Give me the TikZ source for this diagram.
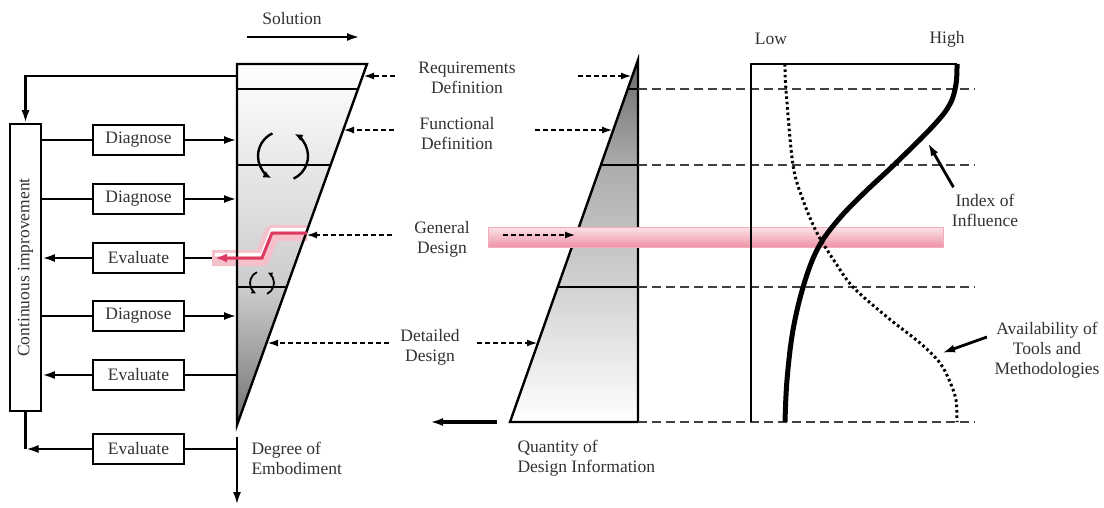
\documentclass[tikz,border=0pt]{standalone}
\usepackage{fontspec}
\setmainfont{Liberation Serif}
\usetikzlibrary{positioning, arrows.meta, calc}

\definecolor{bandpink}{RGB}{236,128,150}
\definecolor{pathred}{RGB}{222,56,96}
\definecolor{txtgray}{RGB}{50,50,50}

\pgfdeclareverticalshading{embodishade}{100bp}{color(0bp)=(black!55); color(25bp)=(black!55); color(44bp)=(black!20); color(61bp)=(black!9); color(75bp)=(white); color(100bp)=(white)}
\pgfdeclareverticalshading{infoshade}{100bp}{color(0bp)=(white); color(25bp)=(white); color(44bp)=(black!18); color(60bp)=(black!32); color(75bp)=(black!58); color(100bp)=(black!58)}

\begin{document}
\begin{tikzpicture}[
    x=1pt, y=-1pt,
    font=\fontsize{17.5}{20}\selectfont,
    every node/.style={text=txtgray},
    stagebox/.style={rectangle, draw=black, line width=1.7pt, minimum width=91pt, minimum height=30pt, inner sep=0pt, outer sep=0pt},
    flowline/.style={line width=2.8pt},
    flowarrow/.style={line width=2.8pt, -{Latex[length=13pt, width=8pt]}},
    dasharrow/.style={line width=2.8pt, dash pattern=on 5pt off 3pt, -{Latex[length=11pt, width=7pt]}},
    levelline/.style={line width=1.3pt, black!75, dash pattern=on 9pt off 5pt},
    turnarrow/.style={line width=2.4pt, -{Latex[length=8pt, width=7pt]}},
]
\useasboundingbox (0,0) rectangle (1104,507);

% triangles
\coordinate (ltl) at (237,64);
\coordinate (ltr) at (367,64);
\coordinate (ltip) at (237,425);
\coordinate (mtop) at (638,60);
\coordinate (mbr) at (638,422);
\coordinate (mbl) at (510,422);
\shade[shading=embodishade] (ltl) -- (ltr) -- (ltip) -- cycle;
\shade[shading=infoshade] (mtop) -- (mbr) -- (mbl) -- cycle;
\draw[line width=2.4pt] (mtop) -- (mbr) -- (mbl) -- cycle;
\foreach \f/\y in {0.080/89, 0.290/165, 0.627/287}
    \draw[line width=1.8pt] ($(mtop)!\f!(mbl)$) -- (638,\y);
\foreach \y in {89,165,287,422}
    \draw[levelline] (638,\y) -- (975,\y);

% general design band
\shade[top color=bandpink!22, bottom color=bandpink!85, draw=bandpink!65, line width=0.8pt] (488,227) rectangle (943,247);

% influence chart
\coordinate (rbl) at (751,422);
\coordinate (rtl) at (751,64);
\coordinate (rtr) at (957,64);
\draw[line width=2pt] (rbl) -- (rtl) -- (rtr);
\draw[line width=5pt] plot[smooth, tension=0.6] coordinates {(957,64) (956,84) (950,104) (934,125) (897,162) (864,193) (838,220) (818,248) (804,284) (793,330) (787,380) (785,422)};
\draw[line width=3pt, dash pattern=on 2.6pt off 2.8pt] plot[smooth, tension=0.55] coordinates {(785,64) (786,90) (793,165) (803,200) (817,233) (835,262) (853,287) (887,317) (920,343) (940,363) (950,382) (956,400) (957,422)};
\node (low) at (771,39) {Low};
\node (high) at (947,39) {High};
\node[align=center] (index) at (985,210) {Index of\\Influence};
\node[align=center] (avail) at (1047,350) {Availability of\\Tools and\\Methodologies};
\coordinate (idxtip) at (928,143);
\coordinate (avtip) at (942,353);
\draw[flowarrow] ([shift={(5pt,3pt)}]index.north west) -- (idxtip);
\draw[flowarrow] ([shift={(-4pt,13pt)}]avail.west) -- (avtip);

% improvement loop
\node[draw=black, line width=1.7pt, rotate=90, minimum width=287pt, minimum height=31pt, inner sep=0pt] (ci) at (25.5,267.5) {Continuous improvement};
\node[stagebox] (diag1) at (138.5,140) {Diagnose};
\node[stagebox, below=29pt of diag1] (diag2) {Diagnose};
\node[stagebox, below=29pt of diag2] (eval1) {Evaluate};
\node[stagebox, below=28pt of eval1] (diag3) {Diagnose};
\node[stagebox, below=29pt of diag3] (eval2) {Evaluate};
\node[stagebox, below=44pt of eval2] (eval3) {Evaluate};

% ci.south is the right side of the rotated box
\foreach \d in {diag1, diag2, diag3} {
    \draw[flowline] (ci.south |- \d) -- (\d.west);
    \draw[flowarrow] (\d.east) -- (\d.east -| ltl);
}
\foreach \e in {eval1, eval2} {
    \draw[flowline] (\e.east -| ltl) -- (\e.east);
    \draw[flowarrow] (\e.west) -- (ci.south |- \e);
}
\coordinate (fb) at (237,76);
\draw[flowarrow] (fb) -- (fb -| ci) -- (ci.east);
\draw[flowline] (ci.west) -- (ci.west |- eval3);
\draw[flowarrow] (eval3.west) -- (ci.west |- eval3);
\draw[flowline] (eval3.east) -- (eval3.east -| ltl);
\coordinate (dtop) at (237,437);
\coordinate (dbot) at (237,505);
\draw[flowarrow] (dtop) -- (dbot);
\node[anchor=west, align=left] (degree) at (248,458) {Degree of\\Embodiment};

% highlighted path
\coordinate (gpA) at (307,233);
\coordinate (gpB) at (272,233);
\coordinate (gpC) at (262,258);
\coordinate (gpD) at (215,258);
\draw[bandpink!50, line width=16pt, line join=round] (gpA) -- (gpB) -- (gpC) -- ([xshift=-3pt]gpD);
\draw[white, line width=3.5pt, transform canvas={yshift=3.5pt}] (gpA) -- (gpB) -- (gpC) -- (gpD);

\draw[line width=2.4pt] (ltl) -- (ltr) -- (ltip) -- cycle;
\foreach \f/\y in {0.069/89, 0.280/165, 0.618/287}
    \draw[line width=1.8pt] (237,\y) -- ($(ltr)!\f!(ltip)$);
\draw[pathred, line width=3pt, -{Latex[length=12pt, width=9pt]}] (gpA) -- (gpB) -- (gpC) -- (gpD);

% iteration arrows
\coordinate (bigc) at (283,156);
\coordinate (smallc) at (262,283);
\draw[turnarrow] ([shift={(245:25)}]bigc) arc[start angle=245, end angle=118, radius=25];
\draw[turnarrow] ([shift={(65:25)}]bigc) arc[start angle=65, end angle=-62, radius=25];
\draw[turnarrow, line width=1.8pt, -{Latex[length=5pt, width=5pt]}] ([shift={(245:12)}]smallc) arc[start angle=245, end angle=118, radius=12];
\draw[turnarrow, line width=1.8pt, -{Latex[length=5pt, width=5pt]}] ([shift={(65:12)}]smallc) arc[start angle=65, end angle=-62, radius=12];

% solution axis
\node (soltext) at (292,19) {Solution};
\coordinate (solA) at (247,37);
\coordinate (solB) at (360,37);
\draw[flowarrow] (solA) -- (solB);

% phase labels
\node[align=center] (reqdef) at (467,78) {Requirements\\Definition};
\node[align=center] (fundef) at (457,134) {Functional\\Definition};
\node[align=center] (gendes) at (442,239) {General\\Design};
\node[align=center] (detdes) at (430,347) {Detailed\\Design};
\foreach \lbl/\y/\la/\lb/\ra/\rb in {reqdef/76/395/363/578/632, fundef/130/394/343/535/613, gendes/235/392/306/503/576, detdes/343/389/267/477/538} {
    \coordinate (\lbl-la) at (\la,\y);
    \coordinate (\lbl-lb) at (\lb,\y);
    \coordinate (\lbl-ra) at (\ra,\y);
    \coordinate (\lbl-rb) at (\rb,\y);
    \draw[dasharrow] (\lbl-la) -- (\lbl-lb);
    \draw[dasharrow] (\lbl-ra) -- (\lbl-rb);
}

% design information axis
\coordinate (qA) at (497,422);
\coordinate (qB) at (430,422);
\draw[flowarrow, line width=3.4pt] (qA) -- (qB);
\node[anchor=west, align=left] (quantity) at (514,458) {Quantity of\\Design Information};
\end{tikzpicture}
\end{document}
